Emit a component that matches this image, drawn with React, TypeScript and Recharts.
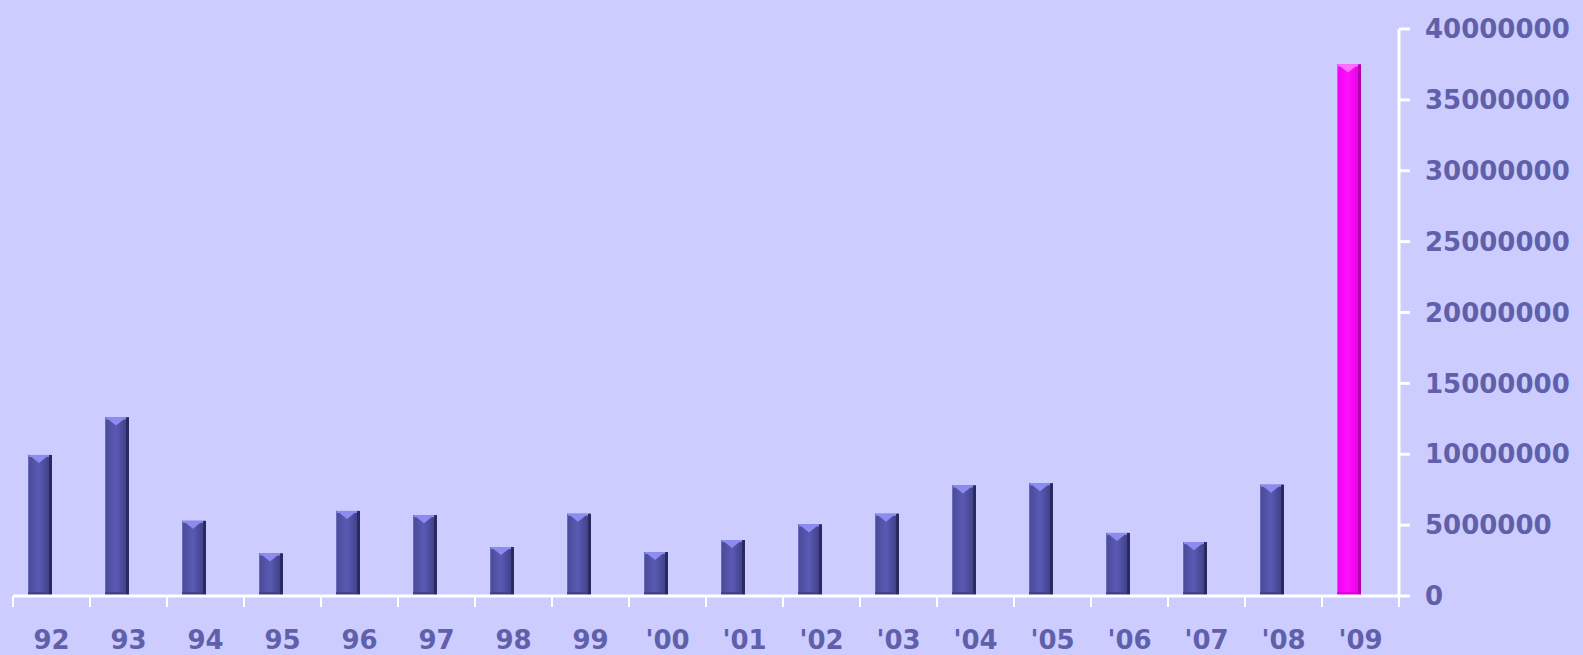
import React from "react";
import { BarChart, Bar, XAxis, YAxis, Cell } from "recharts";

// Years shown on the x axis
const years = [
  "92", "93", "94", "95", "96", "97", "98", "99",
  "'00", "'01", "'02", "'03", "'04", "'05", "'06", "'07", "'08", "'09",
];

// Value per year
const amounts = [
  9950000, 12600000, 5300000, 3000000, 6000000, 5700000, 3450000, 5800000,
  3100000, 3950000, 5050000, 5800000, 7800000, 7950000, 4450000, 3800000,
  7850000, 37500000,
];

const yTicks = [0, 5000000, 10000000, 15000000, 20000000, 25000000, 30000000, 35000000, 40000000];

const highlightYear = "'09";

const data = years.map((year, i) => ({ year, amount: amounts[i] }));

const W = 1583;
const H = 655;
const M = { top: 29, right: 0, bottom: 0, left: 13 };
const Y_AXIS_W = 184;
const X_AXIS_H = 59;
const BAND = (W - M.left - M.right - Y_AXIS_W) / years.length;
const BAR_SHIFT = 12; // bars sit left of the band centre, as in the original

const textColor = "#6060aa";
const axisFont = {
  fontFamily: "'DejaVu Sans', Verdana, sans-serif",
  fontSize: 26,
  fontWeight: "bold",
  fill: textColor,
};

const XTick = (props: any) => {
  const { x, y, payload, index } = props;
  const axisY = y - 35; // tickSize + tickMargin
  const left = x - BAND / 2;
  const right = x + BAND / 2;
  return (
    <g>
      <line x1={left} x2={left} y1={axisY} y2={axisY + 11} stroke="#ffffff" strokeWidth={2} />
      {index === years.length - 1 && (
        <line x1={right} x2={right} y1={axisY} y2={axisY + 11} stroke="#ffffff" strokeWidth={2} />
      )}
      <text x={x} y={y} dy="0.71em" textAnchor="middle" {...axisFont}>
        {payload.value}
      </text>
    </g>
  );
};

const BevelBar = (props: any) => {
  const { x, y, width, height, fill } = props;
  if (!height || height <= 0) return null;
  const bx = x - BAR_SHIFT;
  const hot = fill === "magenta";
  const grad = hot ? "url(#gradHot)" : "url(#gradBlue)";
  const edge = hot ? "#b000b0" : "#2a2a5e";
  const light = hot ? "#ff70ff" : "#8c8cf0";
  const tri = Math.min(8, height / 2);
  return (
    <g>
      <rect x={bx} y={y} width={width} height={height} fill={grad} />
      <rect x={bx + width - 3} y={y} width={3} height={height} fill={edge} />
      <rect x={bx} y={y} width={1} height={height} fill={hot ? "#ff40ff" : "#6a6ab8"} />
      <rect x={bx + 1} y={y} width={width - 4} height={2} fill={light} />
      <polygon
        points={`${bx + 1},${y} ${bx + width - 3},${y} ${bx + width / 2 - 1},${y + tri}`}
        fill={light}
      />
      <rect x={bx} y={y + height - 4} width={width - 3} height={4} fill={hot ? "#d800d8" : "#3e3e82"} opacity={0.8} />
    </g>
  );
};

export default function App() {
  return (
    <div
      style={{
        position: "absolute",
        left: 0,
        top: 0,
        width: W,
        height: H,
        background: "#ccccff",
        overflow: "hidden",
      }}
    >
      <BarChart width={W} height={H} data={data} margin={M} barCategoryGap={0}>
        <defs>
          <linearGradient id="gradBlue" x1="0" y1="0" x2="1" y2="0">
            <stop offset="0%" stopColor="#4a4a98" />
            <stop offset="45%" stopColor="#5a5ab4" />
            <stop offset="100%" stopColor="#3a3a80" />
          </linearGradient>
          <linearGradient id="gradHot" x1="0" y1="0" x2="1" y2="0">
            <stop offset="0%" stopColor="#f000f0" />
            <stop offset="45%" stopColor="#ff10ff" />
            <stop offset="100%" stopColor="#e000e0" />
          </linearGradient>
        </defs>
        <XAxis
          dataKey="year"
          interval={0}
          height={X_AXIS_H}
          axisLine={{ stroke: "#ffffff", strokeWidth: 3 }}
          tickLine={false}
          tickSize={12}
          tickMargin={23}
          tick={<XTick />}
        />
        <YAxis
          orientation="right"
          width={Y_AXIS_W}
          domain={[0, 40000000]}
          ticks={yTicks}
          interval={0}
          axisLine={{ stroke: "#ffffff", strokeWidth: 3 }}
          tickLine={{ stroke: "#ffffff", strokeWidth: 3 }}
          tickSize={11}
          tickMargin={15}
          tick={axisFont}
        />
        <Bar dataKey="amount" barSize={24} isAnimationActive={false} shape={<BevelBar />}>
          {data.map((d) => (
            <Cell key={d.year} fill={d.year === highlightYear ? "magenta" : "blue"} />
          ))}
        </Bar>
      </BarChart>
    </div>
  );
}
